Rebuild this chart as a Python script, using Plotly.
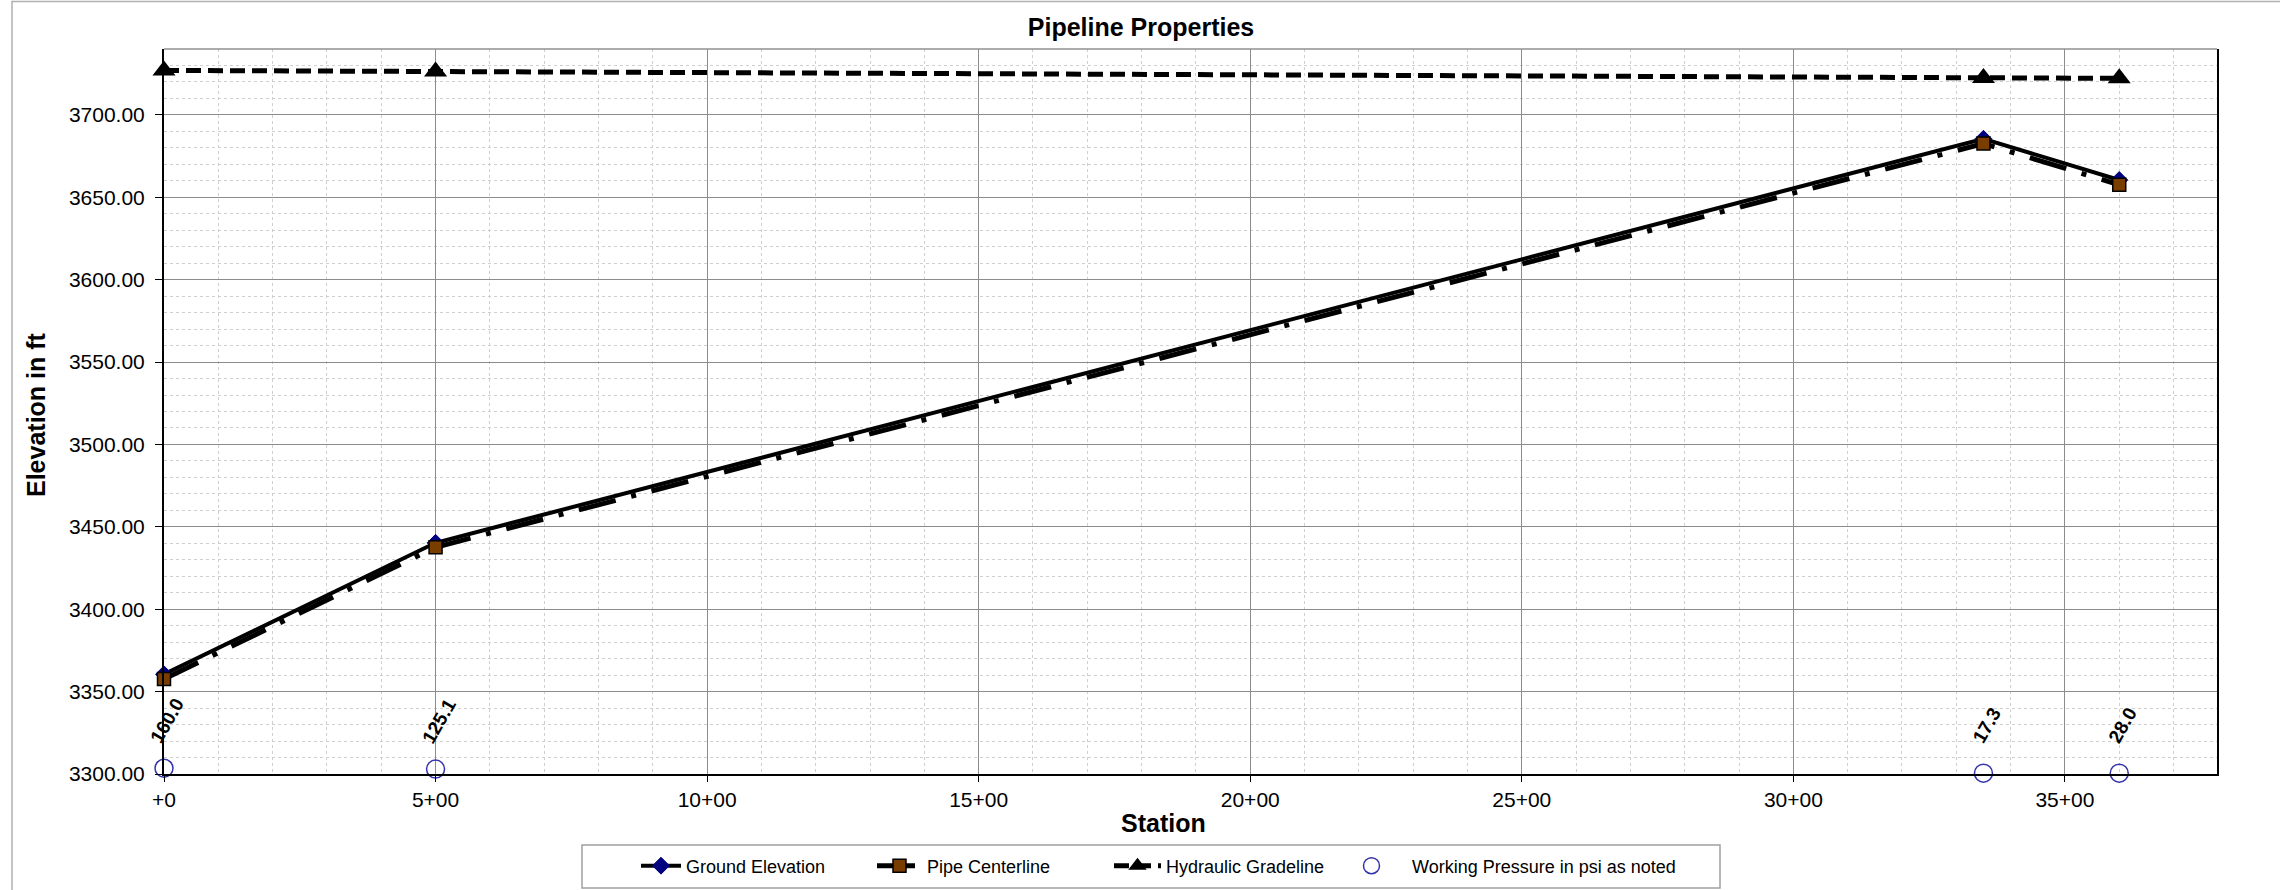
import plotly.graph_objects as go

# ---- data ----
stations = [0, 500, 3350, 3600]
ground_elev = [3360.5, 3440.3, 3685.5, 3660.5]
pipe_cl = [3357.6, 3437.6, 3682.6, 3657.6]
hgl = [3727.0, 3726.3, 3722.4, 3722.2]
wp_y = [3303.5, 3303.0, 3300.5, 3300.5]
wp_psi = [160.0, 125.1, 17.3, 28.0]

x_tickvals = [0, 500, 1000, 1500, 2000, 2500, 3000, 3500]
x_ticktext = ["+0", "5+00", "10+00", "15+00", "20+00", "25+00", "30+00", "35+00"]

FONT = "Liberation Sans, Arial, sans-serif"
W, H = 2280, 890
L, R, T, B = 164, 63, 49, 116
pw, ph = W - L - R, H - T - B


def px_x(px):
    return (px - L) / pw


def px_y(py):
    return (T + ph - py) / ph


fig = go.Figure()

fig.add_trace(go.Scatter(
    x=stations, y=ground_elev, name="Ground Elevation", mode="lines+markers",
    line=dict(color="black", width=4),
    marker=dict(symbol="diamond", size=13, color="#000080", line=dict(color="#000080", width=1)),
    cliponaxis=False, legend="legend",
))
fig.add_trace(go.Scatter(
    x=stations, y=pipe_cl, name="Pipe Centerline", mode="lines+markers",
    line=dict(color="black", width=5, dash="38px,16px,5px,16px"),
    marker=dict(symbol="square", size=13, color="#7A3D00", line=dict(color="black", width=1.5)),
    cliponaxis=False, legend="legend2",
))
fig.add_trace(go.Scatter(
    x=stations, y=hgl, name="Hydraulic Gradeline", mode="lines+markers",
    line=dict(color="black", width=5, dash="15px,7px"),
    marker=dict(symbol="triangle-up", size=20, color="black"),
    cliponaxis=False, legend="legend3",
))
fig.add_trace(go.Scatter(
    x=stations, y=wp_y, name="Working Pressure in psi as noted", mode="markers",
    marker=dict(symbol="circle-open", size=18, color="#3333AA", line=dict(color="#3333AA", width=1.5)),
    cliponaxis=False, legend="legend4",
))

annotations = []
for s, y, p in zip(stations, wp_y, wp_psi):
    annotations.append(dict(
        x=s, y=y, xref="x", yref="y", text=f"{p:.1f}", showarrow=False,
        textangle=-60, xanchor="center", yanchor="middle", yshift=48, xshift=3,
        font=dict(family=FONT, size=19, color="black", weight="bold"),
    ))

annotations.append(dict(
    x=px_x(1163), y=px_y(823), xref="paper", yref="paper",
    text="Station", showarrow=False, xanchor="center", yanchor="middle",
    font=dict(family=FONT, size=25, color="black", weight="bold"),
))
annotations.append(dict(
    x=px_x(36), y=px_y(415), xref="paper", yref="paper",
    text="Elevation in ft", showarrow=False, textangle=-90, xanchor="center", yanchor="middle",
    font=dict(family=FONT, size=25, color="black", weight="bold"),
))

shapes = [
    # chart area border (left & top visible)
    dict(type="rect", xref="paper", yref="paper",
         x0=px_x(12), x1=1.2, y0=-0.3, y1=px_y(1.5),
         line=dict(color="#B0B0B0", width=1.5), fillcolor="rgba(0,0,0,0)", layer="below"),
    # top border of plot area (gray)
    dict(type="line", xref="paper", yref="paper", x0=0, x1=1, y0=1, y1=1,
         line=dict(color="#909090", width=1.5)),
    # legend frame
    dict(type="rect", xref="paper", yref="paper",
         x0=px_x(582), x1=px_x(1720), y0=px_y(888), y1=px_y(845),
         line=dict(color="#A0A0A0", width=1.5), fillcolor="white", layer="above"),
]

LEG_Y = 1 - 866 / H
leg_common = dict(orientation="h", xref="container", yref="container", xanchor="left",
                  y=LEG_Y, yanchor="middle", borderwidth=0, bgcolor="rgba(0,0,0,0)",
                  font=dict(family=FONT, size=18, color="black"))

fig.update_layout(
    width=W, height=H,
    margin=dict(l=L, r=R, t=T, b=B),
    paper_bgcolor="white", plot_bgcolor="white",
    font=dict(family=FONT, color="black"),
    title=dict(text="Pipeline Properties", x=1141 / W, xref="container", xanchor="center",
               y=1 - 27 / H, yref="container", yanchor="middle",
               font=dict(family=FONT, size=25, color="black", weight="bold")),
    showlegend=True,
    legend=dict(x=(685 - 49) / W, itemwidth=40, **leg_common),
    legend2=dict(x=(926 - 54) / W, itemwidth=45, **leg_common),
    legend3=dict(x=(1165 - 56) / W, itemwidth=47, **leg_common),
    legend4=dict(x=(1411 - 80) / W, itemwidth=71, **leg_common),
    annotations=annotations,
    shapes=shapes,
)

fig.update_xaxes(
    range=[0, 3780], tickvals=x_tickvals, ticktext=x_ticktext,
    showline=True, linecolor="black", linewidth=2, mirror=False,
    ticks="outside", ticklen=6, tickcolor="black",
    showgrid=True, gridcolor="#8C8C8C", gridwidth=1,
    zeroline=False,
    tickfont=dict(family=FONT, size=21, color="black"),
    minor=dict(dtick=100, tick0=0, showgrid=True, gridcolor="#CFCFCF", griddash="dot", gridwidth=1),
)
fig.update_yaxes(
    range=[3300, 3740], tick0=3300, dtick=50, tickformat=".2f",
    showline=True, linecolor="black", linewidth=2, mirror=True,
    ticks="outside", ticklen=7, tickcolor="black", ticklabelstandoff=6,
    showgrid=True, gridcolor="#8C8C8C", gridwidth=1,
    zeroline=False,
    tickfont=dict(family=FONT, size=21, color="black"),
    minor=dict(dtick=10, tick0=3300, showgrid=True, gridcolor="#CFCFCF", griddash="dot", gridwidth=1),
)

fig.write_html("out.html", config={"displayModeBar": False},
               post_script="document.body.style.margin='0';")
